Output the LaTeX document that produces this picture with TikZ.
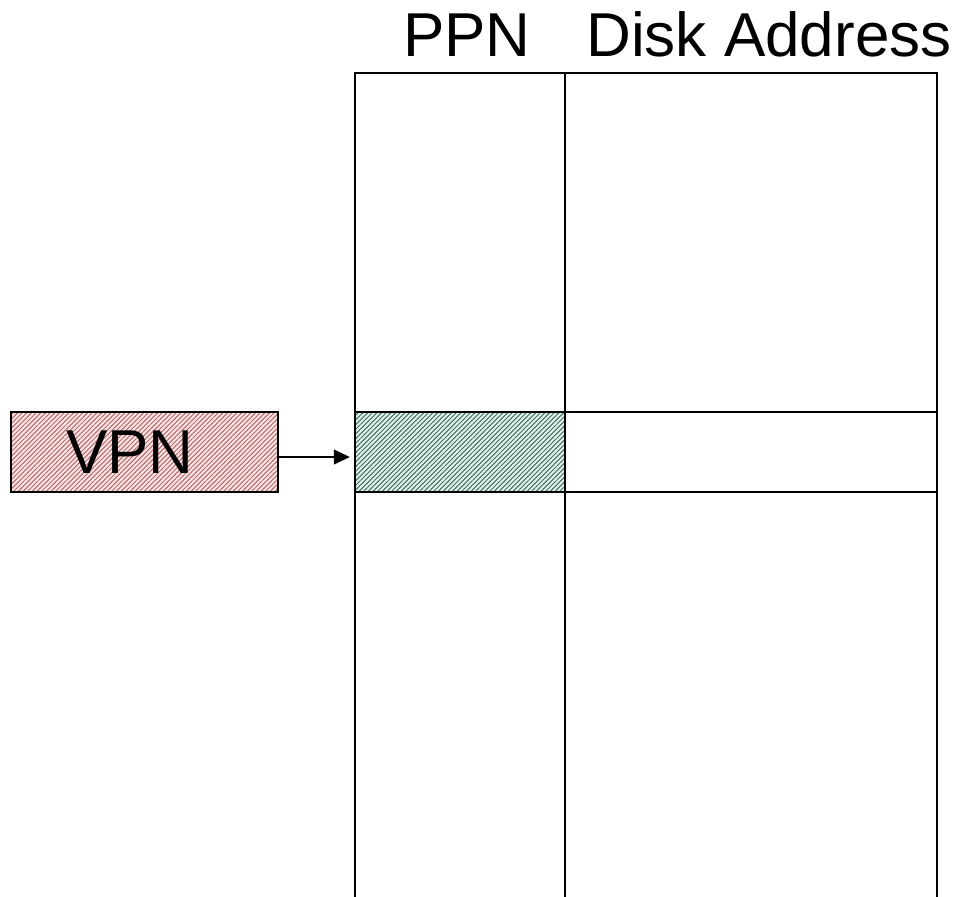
\documentclass[tikz,border=0pt]{standalone}
\usepackage{fontspec}
\setmainfont{Liberation Sans}
\usetikzlibrary{patterns.meta,arrows.meta}
\definecolor{vpnfill}{HTML}{F6E4E4}
\definecolor{vpnline}{HTML}{B86868}
\definecolor{ppnfill}{HTML}{E4F0EC}
\definecolor{ppnline}{HTML}{3E6E5E}
\tikzset{
  grid/.style={line width=1.6pt, draw=black},
  label/.style={font=\fontsize{62}{70}\selectfont, inner sep=0pt, anchor=base},
  hatch/.style={pattern={Lines[angle=45,distance=3.3pt,line width=1pt]}},
}
\begin{document}
\begin{tikzpicture}[x=1pt,y=-1pt]
  \useasboundingbox (0,0) rectangle (964,897);
  % page table rows and columns
  \coordinate (tl) at (355,73);
  \coordinate (tm) at (565,73);
  \coordinate (tr) at (937,73);
  \coordinate (bl) at (355,897);
  \coordinate (bm) at (565,897);
  \coordinate (br) at (937,897);
  % selected entry, hatched
  \fill[ppnfill] (355,412) rectangle (565,492);
  \fill[hatch, pattern color=ppnline] (355,412) rectangle (565,492);
  \node[draw=none, minimum width=210pt, minimum height=80pt, inner sep=0pt] (entry) at (460,452) {};
  \draw[grid] (bl) -- (tl) -- (tr) -- (br);
  \draw[grid] (tm) -- (bm);
  \draw[grid] (355,412) -- (937,412);
  \draw[grid] (355,492) -- (937,492);
  % column headings
  \node[label] (ppn) at (467,56) {PPN};
  \node[label] (disk) at (769,56) {Disk Address};
  % virtual page number box
  \fill[vpnfill] (11,412) rectangle (278,492);
  \fill[hatch, pattern color=vpnline] (11,412) rectangle (278,492);
  \node[draw, line width=1.6pt, minimum width=267pt, minimum height=80pt, inner sep=0pt] (vpn) at (144.5,452) {};
  \node[label] (vpntext) at (130,473) {VPN};
  \draw[line width=1.3pt, -{Triangle[length=16pt,width=15pt]}]
    ([yshift=-5pt]vpn.east) -- ([xshift=-5pt,yshift=-5pt]entry.west);
\end{tikzpicture}
\end{document}
